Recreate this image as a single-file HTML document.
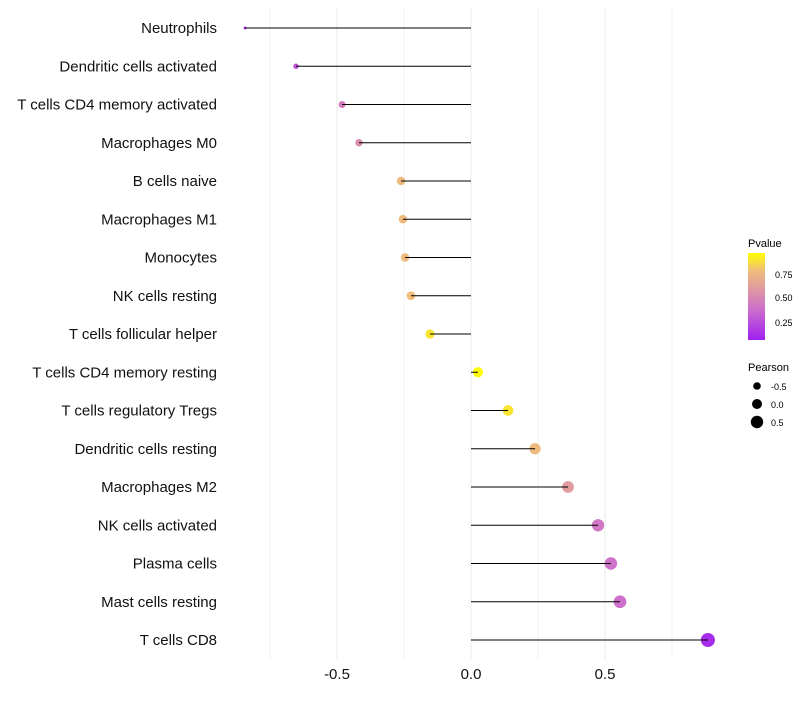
<!DOCTYPE html>
<html><head><meta charset="utf-8"><style>
body{margin:0;background:#fff;font-family:"Liberation Sans",sans-serif}
</style></head><body>
<svg id="chart" width="800" height="700" xmlns="http://www.w3.org/2000/svg">
<defs><linearGradient id="pg" x1="0" y1="1" x2="0" y2="0">
<stop offset="0" stop-color="#A020F0"/><stop offset="0.35" stop-color="#CC6FCC"/><stop offset="0.55" stop-color="#DD92A8"/><stop offset="0.8" stop-color="#F0BE7A"/><stop offset="1" stop-color="#FFFF00"/></linearGradient></defs>
<g id="grid"></g><g id="points"></g><g id="stems"></g><g id="ylabels"></g><g id="xlabels"></g>
<g font-size="10">
<text x="748" y="247" font-size="11">Pvalue</text>
<rect x="748" y="253" width="17" height="87" fill="url(#pg)"/>
<text x="775" y="278" font-size="9">0.75</text>
<text x="775" y="301" font-size="9">0.50</text>
<text x="775" y="326" font-size="9">0.25</text>
<text x="748" y="371" font-size="11">Pearson</text>
<circle cx="757" cy="386" r="3.8" fill="#000"/>
<circle cx="757" cy="404" r="5" fill="#000"/>
<circle cx="757" cy="422" r="6.2" fill="#000"/>
<text x="771" y="390" font-size="9">-0.5</text>
<text x="771" y="408" font-size="9">0.0</text>
<text x="771" y="426" font-size="9">0.5</text>
</g>
</svg>
<script>
const categories=["Neutrophils","Dendritic cells activated","T cells CD4 memory activated","Macrophages M0","B cells naive","Macrophages M1","Monocytes","NK cells resting","T cells follicular helper","T cells CD4 memory resting","T cells regulatory  Tregs ","Dendritic cells resting","Macrophages M2","NK cells activated","Plasma cells","Mast cells resting","T cells CD8"];
const pearson=[-0.843,-0.653,-0.481,-0.418,-0.261,-0.254,-0.246,-0.224,-0.153,0.026,0.138,0.239,0.362,0.474,0.522,0.556,0.884];
const pvalue=[0.05,0.22,0.42,0.52,0.78,0.78,0.78,0.8,0.92,0.99,0.92,0.78,0.6,0.4,0.37,0.36,0.05];
const xTicks=[-0.5,0,0.5];
const xTickLabels=["-0.5","0.0","0.5"];
const gridVals=[-0.75,-0.5,-0.25,0,0.25,0.5,0.75];
const NS="http://www.w3.org/2000/svg";
const xs=v=>471+v*268;
const ys=i=>28+i*38.25;
const rs=v=>Math.sqrt(Math.max(1,25+27.2*v));
function lerp(a,b,t){return a.map((c,k)=>Math.round(c+(b[k]-c)*t));}
const stops=[[0,[160,32,240]],[0.35,[204,111,204]],[0.55,[221,146,168]],[0.8,[240,190,122]],[1,[255,255,0]]];
function col(p){for(let k=1;k<stops.length;k++){if(p<=stops[k][0]){const t=(p-stops[k-1][0])/(stops[k][0]-stops[k-1][0]);return 'rgb('+lerp(stops[k-1][1],stops[k][1],t).join(',')+')';}}return 'rgb(255,255,0)';}
function mk(tag,attrs,parent){const e=document.createElementNS(NS,tag);for(const k in attrs)e.setAttribute(k,attrs[k]);parent.appendChild(e);return e;}
const grid=document.getElementById('grid'),pts=document.getElementById('points'),stems=document.getElementById('stems'),yl=document.getElementById('ylabels'),xl=document.getElementById('xlabels');
gridVals.forEach(v=>{const l=mk('line',{x1:xs(v),x2:xs(v),y1:8,y2:660,stroke:'#ebebeb','stroke-width':v%0.5===0?1:0.6},grid);

});
categories.forEach((c,i)=>{
 const pt=mk('circle',{cx:xs(pearson[i]),cy:ys(i),r:rs(pearson[i]),fill:col(pvalue[i])},pts);
 
 
 const ln=mk('line',{x1:xs(0),x2:xs(pearson[i]),y1:ys(i),y2:ys(i),stroke:'#000','stroke-width':1},stems);
 
 
 const t=mk('text',{x:217,y:ys(i)+5,'text-anchor':'end','font-size':15,fill:'#111'},yl);
 t.textContent=c;
 
 
});
xTicks.forEach((v,i)=>{const t=mk('text',{x:xs(v),y:679,'text-anchor':'middle','font-size':15,fill:'#111'},xl);
t.textContent=xTickLabels[i];

});
</script>
</body></html>
